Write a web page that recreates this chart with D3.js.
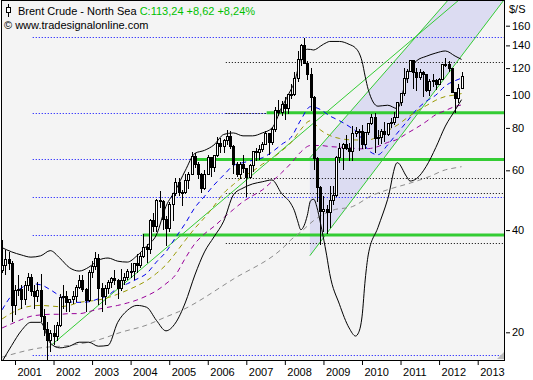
<!DOCTYPE html>
<html><head><meta charset="utf-8">
<script src="https://cdn.jsdelivr.net/npm/d3@7"></script>
<style>body{margin:0;background:#fff}svg{display:block}</style>
</head><body>
<script>
// ---------- DATA ----------
const months = ["2000-09","2000-10","2000-11","2000-12",
"2001-01","2001-02","2001-03","2001-04","2001-05","2001-06","2001-07","2001-08","2001-09","2001-10","2001-11","2001-12",
"2002-01","2002-02","2002-03","2002-04","2002-05","2002-06","2002-07","2002-08","2002-09","2002-10","2002-11","2002-12",
"2003-01","2003-02","2003-03","2003-04","2003-05","2003-06","2003-07","2003-08","2003-09","2003-10","2003-11","2003-12",
"2004-01","2004-02","2004-03","2004-04","2004-05","2004-06","2004-07","2004-08","2004-09","2004-10","2004-11","2004-12",
"2005-01","2005-02","2005-03","2005-04","2005-05","2005-06","2005-07","2005-08","2005-09","2005-10","2005-11","2005-12",
"2006-01","2006-02","2006-03","2006-04","2006-05","2006-06","2006-07","2006-08","2006-09","2006-10","2006-11","2006-12",
"2007-01","2007-02","2007-03","2007-04","2007-05","2007-06","2007-07","2007-08","2007-09","2007-10","2007-11","2007-12",
"2008-01","2008-02","2008-03","2008-04","2008-05","2008-06","2008-07","2008-08","2008-09","2008-10","2008-11","2008-12",
"2009-01","2009-02","2009-03","2009-04","2009-05","2009-06","2009-07","2009-08","2009-09","2009-10","2009-11","2009-12",
"2010-01","2010-02","2010-03","2010-04","2010-05","2010-06","2010-07","2010-08","2010-09","2010-10","2010-11","2010-12",
"2011-01","2011-02","2011-03","2011-04","2011-05","2011-06","2011-07","2011-08","2011-09","2011-10","2011-11","2011-12",
"2012-01","2012-02","2012-03","2012-04","2012-05","2012-06","2012-07","2012-08"];
const open = [30.5,31.5,32.8,32.0,
24.0,26.5,26.8,25.0,27.5,29.0,26.3,25.5,26.5,22.3,20.4,18.9,
19.8,19.5,21.0,25.4,25.5,24.5,24.9,25.5,27.1,28.5,26.8,24.8,
30.0,31.3,33.0,27.0,25.5,27.0,28.0,28.8,28.5,27.0,28.5,29.1,
30.2,30.3,32.0,31.5,33.5,35.5,35.0,42.8,41.0,49.0,48.5,43.0,
40.5,47.5,51.3,55.3,51.5,51.5,56.0,58.5,66.0,62.5,58.5,53.0,
58.5,65.5,61.0,66.5,72.0,70.5,73.5,75.5,70.5,62.5,58.5,62.5,
60.8,57.0,61.8,68.0,67.5,69.0,71.5,77.0,72.5,79.0,90.0,89.0,
93.5,91.5,100.0,100.5,111.5,127.5,140.0,124.0,115.0,98.5,65.0,53.5,
45.5,45.9,45.0,49.0,50.5,65.5,69.5,71.5,69.5,68.0,77.0,78.0,
77.9,71.5,77.5,82.5,86.0,74.5,75.0,78.0,76.5,82.3,83.2,86.0,
94.8,101.0,112.0,117.5,126.0,116.7,112.5,116.7,114.9,102.8,109.6,110.5,
107.4,111.0,122.7,122.9,119.5,101.9,97.8,104.6];
const high = [37.4,35.0,34.5,32.5,
27.5,29.5,27.5,28.3,29.9,29.8,27.5,28.2,29.8,23.5,21.5,20.3,
21.0,21.5,26.0,27.5,26.5,25.0,26.4,27.5,29.5,29.5,27.0,30.5,
32.5,34.5,34.0,28.0,27.5,28.5,29.2,30.5,28.8,30.7,30.0,30.8,
32.0,32.0,34.0,34.5,39.0,36.5,43.0,45.0,49.5,52.0,49.0,44.0,
48.5,51.5,57.0,57.0,52.5,58.5,59.5,68.0,67.5,63.5,59.0,60.0,
66.5,65.8,66.5,75.0,74.5,74.0,78.7,78.2,71.0,63.5,63.5,66.5,
61.0,62.5,68.5,70.0,71.0,72.5,78.5,77.5,80.5,92.0,96.5,96.0,
98.5,101.0,108.0,116.5,135.0,141.0,147.5,126.0,120.0,99.0,65.5,54.0,
50.5,47.5,54.0,54.0,66.0,72.0,72.0,76.0,72.0,81.0,80.5,79.5,
81.5,78.0,82.5,88.0,88.5,79.0,79.5,83.0,82.5,85.5,89.0,95.0,
101.5,120.0,119.5,127.0,127.0,120.0,119.0,117.5,115.5,111.5,115.5,111.5,
112.5,123.5,128.5,126.0,120.0,102.0,108.0,116.5];
const low = [30.0,29.5,30.5,21.5,
22.5,25.5,23.5,24.0,26.5,25.5,23.5,24.5,21.5,19.5,16.6,17.5,
18.3,18.9,20.8,23.5,23.0,23.0,24.3,24.5,26.8,26.2,22.9,24.5,
28.9,30.5,24.0,23.0,24.0,26.0,27.0,27.5,25.0,26.5,27.5,28.5,
29.0,28.5,30.0,31.0,33.0,32.0,34.0,39.5,39.5,46.5,40.0,36.0,
39.5,42.5,50.5,50.5,47.0,51.0,53.0,58.0,61.0,56.5,51.5,52.5,
58.0,57.5,59.5,65.5,67.5,67.5,71.0,69.5,58.5,57.5,56.5,59.0,
49.9,56.5,59.5,64.0,64.5,68.0,71.0,66.5,71.0,78.0,87.0,87.0,
84.5,88.0,97.5,99.5,109.5,121.5,123.0,110.5,89.5,60.0,48.5,36.2,
39.5,39.0,40.5,47.5,50.0,63.0,60.0,69.0,64.0,64.0,75.0,68.5,
69.5,69.5,76.0,81.5,67.5,71.0,71.5,72.5,75.5,80.0,81.5,86.0,
92.5,99.0,108.5,117.0,104.5,102.5,111.0,98.5,102.0,99.0,105.5,103.5,
107.0,110.5,121.0,117.0,101.5,88.5,95.0,104.5];
const close = [31.5,32.8,32.0,24.0,
26.5,26.8,25.0,27.5,29.0,26.3,25.5,26.5,22.3,20.4,18.9,19.8,
19.5,21.0,25.4,25.5,24.5,24.9,25.5,27.1,28.5,26.8,24.8,30.0,
31.3,33.0,27.0,25.5,27.0,28.0,28.8,28.5,27.0,28.5,29.1,30.2,
30.3,32.0,31.5,33.5,35.5,35.0,42.8,41.0,49.0,48.5,43.0,40.5,
47.5,51.3,55.3,51.5,51.5,56.0,58.5,66.0,62.5,58.5,53.0,58.5,
65.5,61.0,66.5,72.0,70.5,73.5,75.5,70.5,62.5,58.5,62.5,60.8,
57.0,61.8,68.0,67.5,69.0,71.5,77.0,72.5,79.0,90.0,89.0,93.5,
91.5,100.0,100.5,111.5,127.5,140.0,124.0,115.0,98.5,65.0,53.5,45.5,
45.9,45.0,49.0,50.5,65.5,69.5,71.5,69.5,68.0,77.0,78.0,77.9,
71.5,77.5,82.5,86.0,74.5,75.0,78.0,76.5,82.3,83.2,86.0,94.8,
101.0,112.0,117.5,126.0,116.7,112.5,116.7,114.9,102.8,109.6,110.5,107.4,
111.0,122.7,122.9,119.5,101.9,97.8,104.6,113.2];

// Bollinger bands
const bbDates = ["2000-09","2000-12","2001-03","2001-06","2001-09","2001-12","2002-03","2002-06","2002-09","2002-12",
"2003-03","2003-06","2003-09","2003-12","2004-03","2004-06","2004-09","2004-12","2005-03","2005-06","2005-09","2005-12",
"2006-03","2006-06","2006-09","2006-12","2007-03","2007-06","2007-09","2007-12","2008-03","2008-04","2008-05","2008-06",
"2008-07","2008-08","2008-09","2008-10","2008-11","2008-12","2009-01","2009-02","2009-03","2009-06","2009-09","2009-11",
"2009-12","2010-01","2010-02","2010-03","2010-06","2010-09","2010-12","2011-03","2011-04","2011-06","2011-09","2011-12","2012-03",
"2012-06","2012-08"];
const bbUpper = [35.5,34.5,33.8,33.3,33.6,34.8,33.1,31.0,30.3,31.1,
32.6,33.1,32.4,32.2,33.6,35.9,38.7,47.0,52.4,59.8,67.3,68.7,
71.3,76.5,77.3,75.8,75.8,77.3,79.9,91.7,104.0,108.8,118.2,128.9,
134.0,136.4,136.2,135.7,137.0,139.1,141.1,142.8,143.8,143.8,141.0,137.5,
133.6,125.8,113.1,103.8,92.7,93.3,91.2,113.0,119.5,126.0,130.0,132.9,134.8,
130.2,127.3];
const bbLower = [16.4,18.3,20.2,21.4,21.4,18.6,18.0,18.2,18.7,18.7,
18.2,18.3,21.4,23.2,24.0,23.7,21.7,20.2,21.3,24.4,29.5,34.5,
38.2,42.5,50.8,53.2,54.7,55.5,56.2,51.3,47.7,45.6,42.6,40.1,
41.2,44.2,48.8,49.3,46.6,42.3,37.9,33.6,29.8,24.2,20.6,19.5,
20.0,22.2,28.7,33.8,40.7,49.3,63.2,57.4,55.8,56.7,61.6,70.0,81.0,
90.2,96.9];

// Moving averages
const maDates = ["2000-09","2000-12","2001-03","2001-06","2001-09","2001-12","2002-03","2002-06","2002-09","2002-12",
"2003-03","2003-06","2003-09","2003-12","2004-03","2004-06","2004-09","2004-12","2005-03","2005-06","2005-09","2005-12",
"2006-03","2006-06","2006-09","2006-12","2007-03","2007-06","2007-09","2007-12","2008-03","2008-06","2008-09","2008-12",
"2009-03","2009-06","2009-09","2009-12","2010-03","2010-06","2010-09","2010-12","2011-03","2011-06","2011-09","2011-12",
"2012-03","2012-06","2012-08"];
const maBlue = [23.3,25.7,27.0,27.8,27.6,26.7,25.6,24.6,24.5,24.6,
25.1,25.7,27.0,27.8,28.7,29.8,32.2,34.5,38.0,41.8,46.6,50.3,
54.3,58.1,62.0,63.2,64.2,65.3,67.9,71.5,75.1,84.5,92.4,90.7,
86.8,84.0,80.8,76.8,68.8,66.7,71.3,77.2,83.4,90.5,95.8,99.9,
106.4,110.2,112.1];
const maOlive = [21.9,22.8,23.5,23.9,24.0,23.9,23.8,24.0,24.5,24.7,
24.9,25.3,25.9,26.6,27.4,28.4,29.8,31.6,34.2,37.3,40.5,43.5,
47.1,51.4,54.5,57.5,59.6,62.5,65.0,68.4,72.5,79.2,84.0,79.0,
76.0,74.5,73.8,73.7,73.7,75.5,78.5,81.5,85.5,89.5,93.0,96.5,
99.0,100.0,101.0];
const maPurple = [20.6,21.2,21.8,22.3,22.5,22.6,22.6,22.7,22.7,23.0,
23.4,23.7,24.0,24.4,24.9,25.6,26.5,27.8,29.5,33.0,36.5,39.0,
41.0,43.5,46.0,48.5,50.5,52.5,55.6,59.0,63.0,68.0,71.0,71.0,
70.5,70.2,70.0,69.4,69.5,70.5,72.5,74.0,77.0,80.0,83.5,87.5,
90.0,92.5,93.5];
const grayDates = ["2000-09","2001-09","2002-06","2003-03","2003-10","2004-06","2004-12","2005-04","2006-09","2008-01",
"2008-03","2008-06","2008-10","2009-04","2009-10","2010-04","2010-09","2011-04","2011-10","2012-03","2012-06","2012-08"];
const maGray = [16.9,18.0,18.3,19.0,20.0,21.0,22.2,23.0,28.7,35.9,
37.5,39.5,42.7,45.8,46.9,50.5,52.6,55.0,57.5,60.2,61.0,61.5];

// Horizontal levels
const fibLevels = [147.8, 88.6, 64.6, 50.1, 38.7, 17.15];
const fibStart = "2001-06-18";
const dottedLevels = [125.2, 88.6, 64.6, 57.0, 51.5, 36.7];
const dottedStart = "2006-06-21";
const supportLevels = [88.6, 64.6, 38.7];
const supportStarts = ["2007-07-13", "2005-08-03", "2004-04-25"];

// Trend lines (two anchor points each)
const trendDates = ["2001-12-13", "2007-11-15"];
const trendValues = [18.35, 68.1];
const channelStart = "2008-08-25";
const channelLowDates = ["2008-12-30", "2012-10-19"];
const channelLowValues = [37.9, 140.5];
const channelHighDates = ["2008-08-25", "2011-05-01"];
const channelHighValues = [65.3, 145.3];

const yearTicks = [2001,2002,2003,2004,2005,2006,2007,2008,2009,2010,2011,2012,2013];
const priceTicks = [20,40,60,80,100,120,140,160];

// ---------- CHART ----------
const W = 533, H = 380;
const P = {l:1, t:0, r:505, b:360};
const FONT = "Tahoma, 'Liberation Sans', Arial, sans-serif";
const pd = d3.timeParse("%Y-%m-%d");
const pm = s => pd(s.length === 7 ? s + "-01" : s);
const x = d3.scaleTime().domain([pm("2001-01"), pm("2013-01")]).range([15, 477.7]);
const y = d3.scaleLog().domain([20, 160]).range([332.3, 25.7]);

const svg = d3.select("body").append("svg").attr("width", W).attr("height", H).style("font-family", FONT);
svg.append("defs").append("clipPath").attr("id","clip")
  .append("rect").attr("x",P.l).attr("y",P.t).attr("width",P.r-P.l).attr("height",P.b-P.t);
svg.append("rect").attr("x",P.l).attr("y",P.t).attr("width",P.r-P.l).attr("height",P.b-P.t).attr("fill","#f4f4f4");
const g = svg.append("g").attr("clip-path","url(#clip)");
const GREEN = "#33cc33";

// straight line through two (date,value) anchors, in pixel space
const lineFn = (dates, vals) => {
  const a = [x(pm(dates[0])), y(vals[0])], b = [x(pm(dates[1])), y(vals[1])];
  const m = (b[1]-a[1])/(b[0]-a[0]);
  return px => a[1] + m*(px - a[0]);
};
const lowerAt = lineFn(channelLowDates, channelLowValues);
const upperAt = lineFn(channelHighDates, channelHighValues);
const cx0 = x(pm(channelStart));
g.append("polygon")
  .attr("points", [[cx0, upperAt(cx0)], [P.r, upperAt(P.r)], [P.r, lowerAt(P.r)], [cx0, lowerAt(cx0)]].map(p=>p.join(",")).join(" "))
  .attr("fill", "#dcdcf2");

// dotted level lines
fibLevels.forEach(v => {
  const yy = Math.round(y(v)) + 0.5;
  g.append("line").attr("x1", x(pm(fibStart))).attr("x2", P.r).attr("y1", yy).attr("y2", yy)
   .attr("stroke", "#0000ff").attr("stroke-dasharray","1,2");
});
dottedLevels.forEach(v => {
  const yy = Math.round(y(v)) + 0.5;
  g.append("line").attr("x1", x(pm(dottedStart))).attr("x2", P.r).attr("y1", yy).attr("y2", yy)
   .attr("stroke", "#000").attr("stroke-dasharray","1,2");
});
supportLevels.forEach((v,i) => {
  g.append("line").attr("x1", x(pm(supportStarts[i]))).attr("x2", P.r).attr("y1", y(v)).attr("y2", y(v))
   .attr("stroke", GREEN).attr("stroke-width", 3);
});

// trend line A
{
  const f = lineFn(trendDates, trendValues), x0 = x(pm(trendDates[0]));
  g.append("line").attr("x1",x0).attr("y1",f(x0)).attr("x2",P.r).attr("y2",f(P.r)).attr("stroke",GREEN);
}
// channel lines
g.append("line").attr("x1",cx0).attr("y1",lowerAt(cx0)).attr("x2",P.r).attr("y2",lowerAt(P.r)).attr("stroke",GREEN);
g.append("line").attr("x1",cx0).attr("y1",upperAt(cx0)).attr("x2",P.r).attr("y2",upperAt(P.r)).attr("stroke",GREEN);

// indicator lines
const mkLine = (dates, vals) => d3.line().curve(d3.curveMonotoneX)
  .x((d,i)=>x(pm(dates[i]))).y(d=>y(d))(vals);
g.append("path").attr("d", mkLine(grayDates, maGray)).attr("fill","none").attr("stroke","#8c8c8c").attr("stroke-dasharray","5,4");
g.append("path").attr("d", mkLine(maDates, maPurple)).attr("fill","none").attr("stroke","#990099").attr("stroke-dasharray","5,4");
g.append("path").attr("d", mkLine(maDates, maOlive)).attr("fill","none").attr("stroke","#999900").attr("stroke-dasharray","5,4");
g.append("path").attr("d", mkLine(maDates, maBlue)).attr("fill","none").attr("stroke","#0000ee").attr("stroke-dasharray","5,4");
g.append("path").attr("d", mkLine(bbDates, bbUpper)).attr("fill","none").attr("stroke","#000");
g.append("path").attr("d", mkLine(bbDates, bbLower)).attr("fill","none").attr("stroke","#000");

// candles
const cg = g.append("g").attr("shape-rendering","crispEdges");
months.forEach((m,i) => {
  const cx = Math.round(x(pm(m))) + 0.5;
  cg.append("line").attr("x1",cx).attr("x2",cx).attr("y1",y(high[i])).attr("y2",y(low[i])).attr("stroke","#000");
  const up = close[i] >= open[i];
  const top = y(Math.max(open[i],close[i])), bot = y(Math.min(open[i],close[i]));
  cg.append("rect").attr("x",cx-1).attr("y",top).attr("width",2).attr("height",Math.max(1,bot-top))
    .attr("fill", up ? "#fff" : "#000").attr("stroke","#000");
});

// frame
svg.append("rect").attr("x",P.l+0.5).attr("y",P.t+0.5).attr("width",P.r-P.l-1).attr("height",P.b-P.t)
  .attr("fill","none").attr("stroke","#000");
svg.append("path").attr("d",`M${P.r-1},${P.b-8} L${P.r-1},${P.b-1} L${P.r-8},${P.b-1} Z`).attr("fill","#bbb");

// x axis
const xa = svg.append("g").attr("transform",`translate(0,${P.b+1})`)
  .call(d3.axisBottom(x).tickValues(yearTicks.map(yy=>pm(yy+"-01"))).tickSize(4).tickFormat(d3.timeFormat("%Y")));
xa.select(".domain").remove();
xa.selectAll("line").attr("stroke","#000");
xa.selectAll("text").attr("text-anchor","start").attr("x",2).attr("y",15).attr("dy",0)
  .attr("font-size",11).attr("fill","#000").attr("font-family",FONT);

// y axis
const ya = svg.append("g").attr("transform",`translate(${P.r+1},0)`)
  .call(d3.axisRight(y).tickValues(priceTicks).tickSize(4).tickFormat(d3.format("d")));
ya.select(".domain").remove();
ya.selectAll("line").attr("stroke","#000");
ya.selectAll("text").attr("x",6).attr("font-size",11).attr("fill","#000").attr("font-family",FONT);
svg.append("text").attr("x",509).attr("y",13).attr("font-size",11).text("$/S");

// title
const ic = svg.append("g").attr("shape-rendering","crispEdges");
ic.append("line").attr("x1",8.5).attr("x2",8.5).attr("y1",4).attr("y2",17).attr("stroke","#000");
ic.append("rect").attr("x",6.5).attr("y",7.5).attr("width",4).attr("height",5).attr("fill","#fff").attr("stroke","#000");
const t = svg.append("text").attr("x",18).attr("y",15).attr("font-size",11);
t.append("tspan").attr("fill","#000").text("Brent Crude - North Sea ");
t.append("tspan").attr("fill","#00c000").text("C:113,24 +8,62 +8,24%");
svg.append("text").attr("x",4).attr("y",29).attr("font-size",11).attr("fill","#000").text("© www.tradesignalonline.com");
</script>
</body></html>
